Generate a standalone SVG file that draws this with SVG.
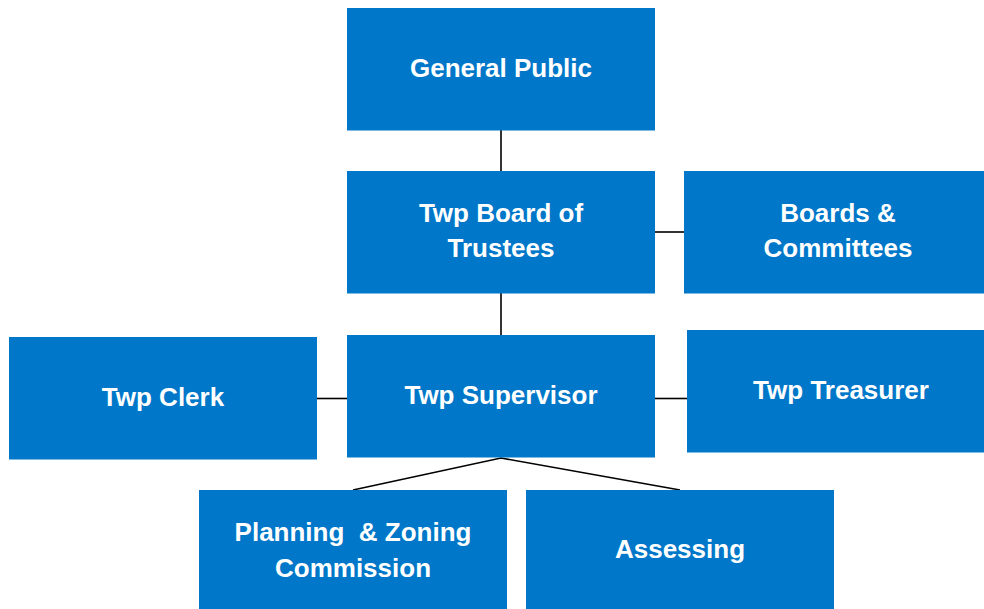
<svg xmlns="http://www.w3.org/2000/svg" width="984" height="609" viewBox="0 0 984 609">
  <style>
    .box { fill: #0077c8; }
    .lbl { fill: #ffffff; font-family: "Liberation Sans", Arial, sans-serif; font-weight: bold; font-size: 26px; text-anchor: middle; white-space: pre; }
    .conn { stroke: #000000; stroke-width: 1.6; fill: none; }
  </style>
  <rect width="984" height="609" fill="#ffffff"/>

  <g id="connectors">
    <line class="conn" x1="501" y1="130" x2="501" y2="171"/>
    <line class="conn" x1="655" y1="232" x2="684" y2="232"/>
    <line class="conn" x1="501" y1="293" x2="501" y2="335"/>
    <line class="conn" x1="317" y1="398.5" x2="347" y2="398.5"/>
    <line class="conn" x1="655" y1="398.5" x2="687" y2="398.5"/>
    <polyline class="conn" points="353,490 501,458 680,490"/>
  </g>

  <g id="general-public">
    <rect class="box" x="347" y="8" width="308" height="122.5"/>
    <text class="lbl" x="501" y="77">General Public</text>
  </g>

  <g id="board-of-trustees">
    <rect class="box" x="347" y="171" width="308" height="122.5"/>
    <text class="lbl" x="501" y="222">Twp Board of</text>
    <text class="lbl" x="501" y="257">Trustees</text>
  </g>

  <g id="boards-committees">
    <rect class="box" x="684" y="171" width="308" height="122.5"/>
    <text class="lbl" x="838" y="222">Boards &amp;</text>
    <text class="lbl" x="838" y="257">Committees</text>
  </g>

  <g id="clerk">
    <rect class="box" x="9" y="337" width="308" height="122.5"/>
    <text class="lbl" x="163" y="406">Twp Clerk</text>
  </g>

  <g id="supervisor">
    <rect class="box" x="347" y="335" width="308" height="122.5"/>
    <text class="lbl" x="501" y="404">Twp Supervisor</text>
  </g>

  <g id="treasurer">
    <rect class="box" x="687" y="330" width="308" height="122.5"/>
    <text class="lbl" x="841" y="399">Twp Treasurer</text>
  </g>

  <g id="planning-zoning">
    <rect class="box" x="199" y="490" width="308" height="122"/>
    <text class="lbl" x="353" y="541">Planning  &amp; Zoning</text>
    <text class="lbl" x="353" y="577">Commission</text>
  </g>

  <g id="assessing">
    <rect class="box" x="526" y="490" width="308" height="122"/>
    <text class="lbl" x="680" y="558">Assessing</text>
  </g>
</svg>
